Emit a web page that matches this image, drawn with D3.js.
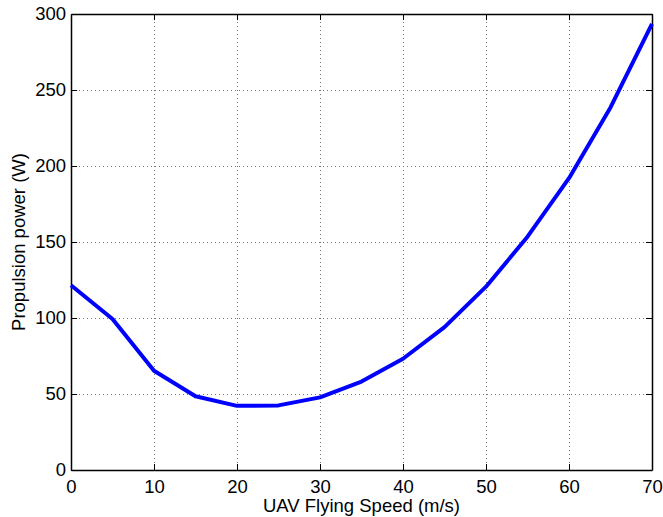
<!DOCTYPE html>
<html>
<head>
<meta charset="utf-8">
<script src="https://cdn.jsdelivr.net/npm/d3@7"></script>
<style>
  html, body { margin: 0; padding: 0; background: #fff; }
  svg { display: block; font-family: "Liberation Sans", Arial, Helvetica, sans-serif; }
</style>
</head>
<body>
<svg id="chart" width="663" height="517"></svg>
<script>
// Flying speed (m/s) and the propulsion power needed at that speed (W)
const speeds = [0, 5, 10, 15, 20, 25, 30, 35, 40, 45, 50, 55, 60, 65, 70];
const power = [121.5, 99.3, 65.3, 48.5, 42.2, 42.5, 47.8, 58.2, 73.2, 94.0, 120.6, 153.5, 192.0, 238.5, 293.5];
const xTicks = [0, 10, 20, 30, 40, 50, 60, 70];
const yTicks = [0, 50, 100, 150, 200, 250, 300];
const xTitle = "UAV Flying Speed (m/s)";
const yTitle = "Propulsion power (W)";

const svg = d3.select("#chart");
const plotL = 71, plotR = 652, plotT = 14, plotB = 470;
const fontSize = "18.5px";

const x = d3.scaleLinear().domain([0, 70]).range([plotL, plotR]);
const y = d3.scaleLinear().domain([0, 300]).range([plotB, plotT]);

// dotted grid
const grid = svg.append("g")
  .attr("stroke", "#777")
  .attr("stroke-width", 1)
  .attr("stroke-dasharray", "1,3");
grid.selectAll("line.v").data(xTicks.slice(1, -1)).join("line")
  .attr("x1", d => Math.round(x(d)) + 0.5).attr("x2", d => Math.round(x(d)) + 0.5)
  .attr("y1", plotT).attr("y2", plotB);
grid.selectAll("line.h").data(yTicks.slice(1, -1)).join("line")
  .attr("y1", d => Math.round(y(d)) + 0.5).attr("y2", d => Math.round(y(d)) + 0.5)
  .attr("x1", plotL).attr("x2", plotR);

// inward ticks on all four sides
const tickLen = 6;
const axisBottom = d3.axisBottom(x).tickValues(xTicks).tickSizeInner(-tickLen).tickSizeOuter(0).tickPadding(10);
const axisTop = d3.axisTop(x).tickValues(xTicks).tickSizeInner(-tickLen).tickSizeOuter(0).tickFormat("");
const axisLeft = d3.axisLeft(y).tickValues(yTicks).tickSizeInner(-tickLen).tickSizeOuter(0).tickPadding(5);
const axisRight = d3.axisRight(y).tickValues(yTicks).tickSizeInner(-tickLen).tickSizeOuter(0).tickFormat("");

function styleAxis(g) {
  g.select(".domain").attr("stroke", "#000").attr("stroke-width", 1.5);
  g.selectAll(".tick line").attr("stroke", "#000").attr("stroke-width", 1);
  g.selectAll(".tick text").attr("fill", "#000").style("font-size", fontSize)
    .style("font-family", "'Liberation Sans', Arial, Helvetica, sans-serif");
}

svg.append("g").attr("transform", `translate(0,${plotB})`).call(axisBottom).call(styleAxis);
svg.append("g").attr("transform", `translate(0,${plotT})`).call(axisTop).call(styleAxis);
svg.append("g").attr("transform", `translate(${plotL},0)`).call(axisLeft).call(styleAxis);
svg.append("g").attr("transform", `translate(${plotR},0)`).call(axisRight).call(styleAxis);

// power curve
const line = d3.line().x((d, i) => x(speeds[i])).y(d => y(d));
svg.append("path")
  .datum(power)
  .attr("d", line)
  .attr("fill", "none")
  .attr("stroke", "#0000ff")
  .attr("stroke-width", 4)
  .attr("stroke-linejoin", "round");

// axis titles
svg.append("text")
  .attr("x", (plotL + plotR) / 2).attr("y", 512)
  .attr("text-anchor", "middle")
  .style("font-size", fontSize)
  .text(xTitle);

svg.append("text")
  .attr("transform", `translate(25,${(plotT + plotB) / 2}) rotate(-90)`)
  .attr("text-anchor", "middle")
  .style("font-size", fontSize)
  .text(yTitle);
</script>
</body>
</html>
